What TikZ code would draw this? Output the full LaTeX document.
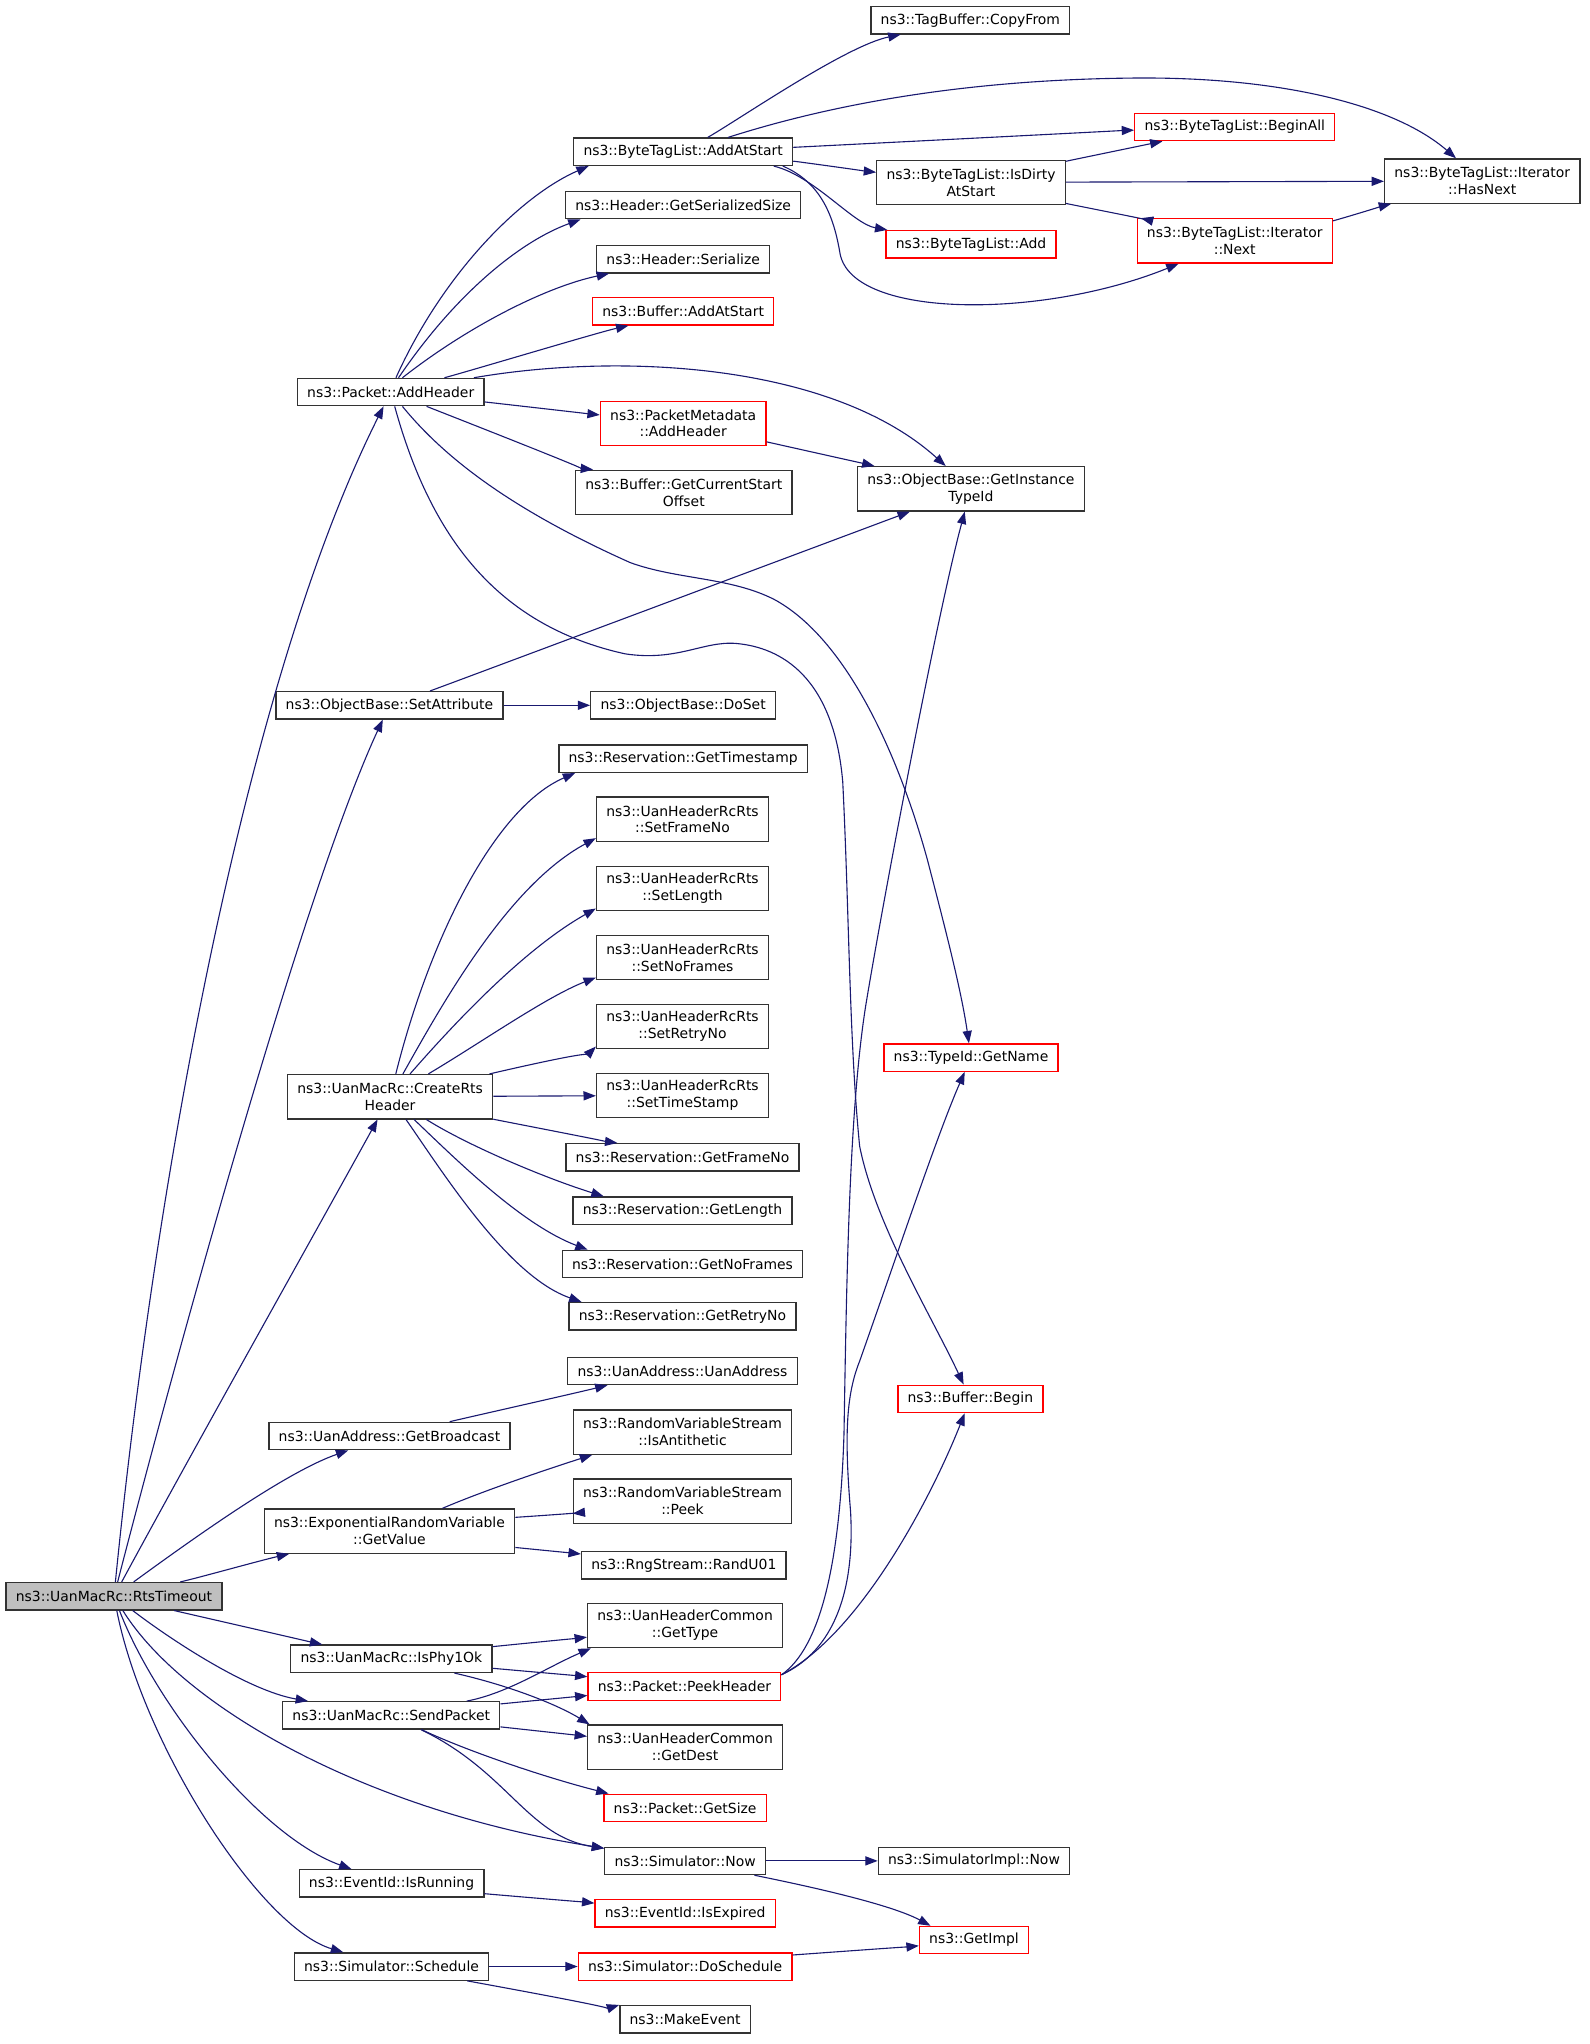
\documentclass[tikz,border=0pt]{standalone}
\usepackage{fontspec}
\setmainfont{DejaVu Sans}
\usetikzlibrary{arrows.meta}
\definecolor{edgeblue}{HTML}{191970}
\definecolor{rootgray}{HTML}{BFBFBF}

\begin{document}
\begin{tikzpicture}[x=1pt,y=-1pt,
    fn/.style={draw=black!80, line width=1pt, fill=white, align=center,
      font=\fontsize{10.7}{13}\selectfont, inner xsep=7.5pt, inner ysep=0pt, minimum height=21pt},
    two/.style={minimum height=34pt},
    undoc/.style={draw=red},
    root/.style={fill=rootgray},
    call/.style={draw=edgeblue, line width=0.85pt, -{Triangle[length=9.5pt,width=7pt]}}]
  \fill[white] (0,0) rectangle (1220,1569.3);
  \useasboundingbox (0,0) rectangle (1220,1569.3);

  \node[fn,root] (rts) at (87.5,1225.5) {ns3::UanMacRc::RtsTimeout};
  \node[fn] (addhdr) at (300,301) {ns3::Packet::AddHeader};
  \node[fn] (addatstart) at (524.5,116.5) {ns3::ByteTagList::AddAtStart};
  \node[fn] (copyfrom) at (745,15.5) {ns3::TagBuffer::CopyFrom};
  \node[fn,undoc] (beginall) at (948,97.5) {ns3::ByteTagList::BeginAll};
  \node[fn,two] (isdirty) at (745.5,140) {ns3::ByteTagList::IsDirty\\AtStart};
  \node[fn,two] (hasnext) at (1138,139) {ns3::ByteTagList::Iterator\\::HasNext};
  \node[fn,undoc] (btladd) at (745.5,187.5) {ns3::ByteTagList::Add};
  \node[fn,two,undoc] (itnext) at (948,185) {ns3::ByteTagList::Iterator\\::Next};
  \node[fn] (getsersize) at (524.5,157.5) {ns3::Header::GetSerializedSize};
  \node[fn] (hdrser) at (524.5,199) {ns3::Header::Serialize};
  \node[fn,undoc] (bufaddatstart) at (524.5,239) {ns3::Buffer::AddAtStart};
  \node[fn,two,undoc] (pmaddhdr) at (524.5,325) {ns3::PacketMetadata\\::AddHeader};
  \node[fn,two] (bufcurstart) at (525,378) {ns3::Buffer::GetCurrentStart\\Offset};
  \node[fn,two] (getinst) at (745.4,375.3) {ns3::ObjectBase::GetInstance\\TypeId};
  \node[fn] (setattr) at (299,541.5) {ns3::ObjectBase::SetAttribute};
  \node[fn] (doset) at (524.5,541.5) {ns3::ObjectBase::DoSet};
  \node[fn] (gettimestamp) at (524.5,582.5) {ns3::Reservation::GetTimestamp};
  \node[fn,two] (setframeno) at (524,629) {ns3::UanHeaderRcRts\\::SetFrameNo};
  \node[fn,two] (setlength) at (524,682) {ns3::UanHeaderRcRts\\::SetLength};
  \node[fn,two] (setnoframes) at (524,735) {ns3::UanHeaderRcRts\\::SetNoFrames};
  \node[fn,two] (setretryno) at (524,788) {ns3::UanHeaderRcRts\\::SetRetryNo};
  \node[fn,two] (settimestamp) at (524,841) {ns3::UanHeaderRcRts\\::SetTimeStamp};
  \node[fn] (getframeno) at (524,888.5) {ns3::Reservation::GetFrameNo};
  \node[fn] (getlength) at (524,929.5) {ns3::Reservation::GetLength};
  \node[fn] (getnoframes) at (524,970.5) {ns3::Reservation::GetNoFrames};
  \node[fn] (getretryno) at (524,1010.5) {ns3::Reservation::GetRetryNo};
  \node[fn,two] (createrts) at (299.5,842) {ns3::UanMacRc::CreateRts\\Header};
  \node[fn,undoc] (getname) at (745.5,812) {ns3::TypeId::GetName};
  \node[fn] (uanaddr) at (524,1052.5) {ns3::UanAddress::UanAddress};
  \node[fn] (getbcast) at (299,1102.5) {ns3::UanAddress::GetBroadcast};
  \node[fn,undoc] (bufbegin) at (745,1074) {ns3::Buffer::Begin};
  \node[fn,two] (isanti) at (524,1099.5) {ns3::RandomVariableStream\\::IsAntithetic};
  \node[fn,two] (peek) at (524,1152.5) {ns3::RandomVariableStream\\::Peek};
  \node[fn,two] (getvalue) at (299,1175.5) {ns3::ExponentialRandomVariable\\::GetValue};
  \node[fn] (randu) at (525,1201.8) {ns3::RngStream::RandU01};
  \node[fn,two] (gettype) at (526,1248) {ns3::UanHeaderCommon\\::GetType};
  \node[fn] (isphy) at (300.5,1273.5) {ns3::UanMacRc::IsPhy1Ok};
  \node[fn,undoc] (peekhdr) at (525.5,1294.8) {ns3::Packet::PeekHeader};
  \node[fn] (sendpkt) at (300.4,1317) {ns3::UanMacRc::SendPacket};
  \node[fn,two] (getdest) at (526,1341.4) {ns3::UanHeaderCommon\\::GetDest};
  \node[fn,undoc] (getsize) at (526,1388) {ns3::Packet::GetSize};
  \node[fn] (simnow) at (526,1428.7) {ns3::Simulator::Now};
  \node[fn] (implnow) at (747.8,1428.7) {ns3::SimulatorImpl::Now};
  \node[fn] (isrunning) at (300.6,1446) {ns3::EventId::IsRunning};
  \node[fn,undoc] (isexpired) at (526,1469) {ns3::EventId::IsExpired};
  \node[fn,undoc] (getimpl) at (747.8,1489.5) {ns3::GetImpl};
  \node[fn] (schedule) at (300.6,1509.8) {ns3::Simulator::Schedule};
  \node[fn,undoc] (doschedule) at (526,1509.8) {ns3::Simulator::DoSchedule};
  \node[fn] (makeevent) at (526,1550.3) {ns3::MakeEvent};

  % calls of RtsTimeout
  \draw[call] (rts) .. controls (120,900) and (190,520) .. (addhdr);
  \draw[call] (rts) .. controls (125,1080) and (230,690) .. (setattr);
  \draw[call] (rts) .. controls (150,1110) and (240,950) .. (createrts);
  \draw[call] (rts) .. controls (150,1180) and (220,1130) .. (getbcast);
  \draw[call] (rts) .. controls (150,1212) and (200,1198) .. (getvalue);
  \draw[call] (rts) .. controls (140,1238) and (245,1262) .. (isphy);
  \draw[call] (rts) .. controls (130,1258) and (190,1298) .. (sendpkt);
  \draw[call] (rts) .. controls (140,1310) and (280,1390) .. (simnow);
  \draw[call] (rts) .. controls (120,1310) and (200,1410) .. (isrunning);
  \draw[call] (rts) .. controls (110,1340) and (200,1480) .. (schedule);

  % calls of AddHeader
  \draw[call] ([xshift=4pt]addhdr.north) .. controls (340,210) and (400,150) .. ([xshift=12pt]addatstart.south west);
  \draw[call] ([xshift=6pt]addhdr.north) .. controls (350,225) and (400,185) .. ([xshift=12pt]getsersize.south west);
  \draw[call] ([xshift=9pt]addhdr.north) .. controls (360,250) and (420,220) .. ([xshift=10pt]hdrser.south west);
  \draw[call] (addhdr) .. controls (360,285) and (460,255) .. ([xshift=28pt]bufaddatstart.south west);
  \draw[call] (addhdr) .. controls (480,270) and (640,280) .. (getinst);
  \draw[call] (addhdr) .. controls (376,309) and (455,318) .. (pmaddhdr);
  \draw[call] (addhdr) .. controls (330,313) and (450,360) .. ([xshift=14pt]bufcurstart.north west);
  \draw[call] (addhdr) .. controls (340,350) and (390,390) .. (484,432)
    .. controls (520,445) and (560,443) .. (594,460)
    .. controls (650,490) and (690,580) .. (712,660)
    .. controls (725,710) and (738,760) .. (getname);
  \draw[call] (addhdr) .. controls (330,410) and (380,480) .. (480,502)
    .. controls (520,508) and (540,492) .. (565,494)
    .. controls (600,497) and (640,520) .. (647,600)
    .. controls (652,700) and (652,800) .. (660,880)
    .. controls (672,940) and (715,1010) .. (bufbegin);

  % calls of AddAtStart
  \draw[call] (addatstart) .. controls (570,90) and (650,35) .. (copyfrom);
  \draw[call] (addatstart) .. controls (620,86) and (720,62) .. (864,60)
    .. controls (980,58) and (1070,80) .. (hasnext);
  \draw[call] (addatstart) .. controls (612,113) and (868,100) .. (beginall);
  \draw[call] (addatstart) .. controls (612,124) and (670,132) .. (isdirty);
  \draw[call] ([xshift=-15pt]addatstart.south east) .. controls (625,135) and (655,172) .. (btladd);
  \draw[call] ([xshift=-8pt]addatstart.south east) .. controls (630,140) and (640,165) .. (645,195)
    .. controls (655,245) and (800,245) .. (itnext);
  \draw[call] (isdirty) .. controls (822,123) and (890,109) .. (beginall);
  \draw[call] (isdirty) -- (hasnext);
  \draw[call] (isdirty) .. controls (822,157) and (878,168) .. (itnext);
  \draw[call] (itnext) .. controls (1026,169) and (1066,157) .. (hasnext);
  \draw[call] (pmaddhdr) .. controls (592,340) and (668,357) .. (getinst);

  % calls of SetAttribute
  \draw[call] (setattr) .. controls (340,527) and (690,396) .. (getinst);
  \draw[call] (setattr) -- (doset);

  % calls of CreateRtsHeader
  \draw[call] (createrts) .. controls (330,720) and (380,620) .. ([xshift=13pt]gettimestamp.south west);
  \draw[call] (createrts) .. controls (340,770) and (390,680) .. ([yshift=3pt]setframeno.south west);
  \draw[call] (createrts) .. controls (345,790) and (400,730) .. ([yshift=2pt]setlength.south west);
  \draw[call] (createrts) .. controls (370,800) and (420,765) .. ([yshift=2pt]setnoframes.south west);
  \draw[call] (createrts) .. controls (378,824) and (455,806) .. ([yshift=2pt]setretryno.south west);
  \draw[call] (createrts) -- (settimestamp);
  \draw[call] (createrts) .. controls (382,860) and (470,877) .. ([xshift=40pt]getframeno.north west);
  \draw[call] (createrts) .. controls (360,880) and (420,905) .. ([xshift=24pt]getlength.north west);
  \draw[call] (createrts) .. controls (350,890) and (400,940) .. ([xshift=20pt]getnoframes.north west);
  \draw[call] (createrts) .. controls (340,900) and (390,980) .. ([xshift=10pt]getretryno.north west);

  \draw[call] (getbcast) .. controls (360,1088) and (440,1070) .. ([xshift=31pt]uanaddr.south west);
  \draw[call] (getvalue) .. controls (370,1145) and (420,1128) .. ([xshift=15pt]isanti.south west);
  \draw[call] (getvalue) .. controls (395,1165) and (440,1162) .. (peek);
  \draw[call] (getvalue) .. controls (395,1188) and (445,1193) .. (randu);

  % IsPhy1Ok and SendPacket
  \draw[call] (isphy) .. controls (380,1264) and (450,1257) .. (gettype);
  \draw[call] (isphy) .. controls (380,1281) and (448,1287) .. (peekhdr);
  \draw[call] (isphy) .. controls (395,1295) and (430,1310) .. ([xshift=2pt]getdest.north west);
  \draw[call] (sendpkt) .. controls (390,1300) and (420,1280) .. ([xshift=3pt]gettype.south west);
  \draw[call] (sendpkt) .. controls (386,1308) and (448,1302) .. (peekhdr);
  \draw[call] (sendpkt) .. controls (386,1326) and (450,1333) .. (getdest);
  \draw[call] (sendpkt) .. controls (360,1345) and (420,1365) .. ([xshift=4pt]getsize.north west);
  \draw[call] (sendpkt) .. controls (390,1360) and (405,1410) .. (simnow);

  % PeekHeader
  \draw[call] ([yshift=-2pt]peekhdr.north east) .. controls (630,1265) and (645,1200) .. (648,1100)
    .. controls (650,980) and (652,850) .. (665,770)
    .. controls (680,680) and (720,470) .. (getinst);
  \draw[call] ([yshift=-2pt]peekhdr.north east) .. controls (635,1270) and (657,1230) .. (653,1160)
    .. controls (648,1100) and (650,1070) .. (660,1045)
    .. controls (690,960) and (720,870) .. (getname);
  \draw[call] ([yshift=-2pt]peekhdr.north east) .. controls (660,1255) and (715,1150) .. (bufbegin);

  % bottom part
  \draw[call] (simnow) -- (implnow);
  \draw[call] (simnow) .. controls (600,1444) and (680,1460) .. ([xshift=9pt]getimpl.north west);
  \draw[call] (isrunning) .. controls (373,1454) and (455,1461) .. (isexpired);
  \draw[call] (schedule) -- (doschedule);
  \draw[call] (schedule) .. controls (365,1522) and (470,1541) .. (makeevent.north west);
  \draw[call] (doschedule) .. controls (608,1501) and (704,1494) .. (getimpl);
\end{tikzpicture}
\end{document}
